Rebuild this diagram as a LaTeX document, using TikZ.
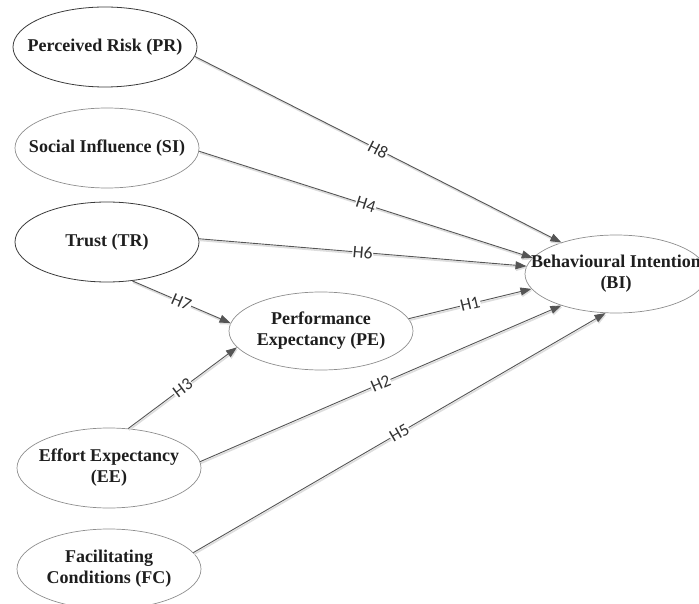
\documentclass[tikz,border=0pt]{standalone}
\usepackage{fontspec}
\setmainfont{Liberation Serif}
\newfontfamily\labfont{Carlito}
\usetikzlibrary{shapes.geometric,arrows.meta}
\definecolor{darkedge}{HTML}{3A3A3A}
\definecolor{lightedge}{HTML}{8E8E8E}
\definecolor{arrowc}{HTML}{555555}
\definecolor{shadowc}{HTML}{DDDDDD}
\definecolor{txtc}{HTML}{1E1E1E}
\definecolor{labc}{HTML}{333333}
\begin{document}
\begin{tikzpicture}[x=1pt,y=-1pt,
  ellbox/.style={ellipse, draw=lightedge, line width=0.7pt, inner sep=0pt,
    minimum width=184pt, minimum height=80pt},
  darkbox/.style={ellbox, draw=darkedge, line width=0.8pt},
  nametext/.style={align=center, inner sep=0pt, text=txtc,
    font=\fontsize{18}{21}\selectfont\bfseries},
  hyp/.style={draw=arrowc, line width=0.9pt,
    -{Triangle[length=11pt,width=8pt]},
    preaction={draw=shadowc, line width=1.6pt,
      transform canvas={shift={(0.8pt,-1.6pt)}}}},
  hlab/.style={midway, sloped, fill=white, inner sep=0.6pt, text=labc,
    font=\labfont\fontsize{17.5}{17.5}\selectfont}
]
\useasboundingbox (0,0) rectangle (699,604);
\clip (0,0) rectangle (699,604);

\node[darkbox] (PR) at (105,47) {};
\node[nametext] (PRt) at (PR) {Perceived Risk (PR)};
\node[ellbox] (SI) at (107,148) {};
\node[nametext] (SIt) at (SI) {Social Influence (SI)};
\node[darkbox] (TR) at (107,242) {};
\node[nametext] (TRt) at (TR) {Trust (TR)};
\node[ellbox, minimum height=78pt] (PE) at (321,331) {};
\node[nametext] (PEt) at (PE) {Performance\\Expectancy (PE)};
\node[ellbox, minimum width=182pt, minimum height=78pt] (BI) at (616,274) {};
\node[nametext] (BIt) at (BI) {Behavioural Intention\\(BI)};
\node[ellbox] (EE) at (109,468) {};
\node[nametext] (EEt) at (EE) {Effort Expectancy\\(EE)};
\node[ellbox] (FC) at (109,569) {};
\node[nametext] (FCt) at (FC) {Facilitating\\Conditions (FC)};

\draw[hyp] (PR.-6) -- node[hlab]{H8} (BI.150.3);
\draw[hyp] (SI.-2) -- node[hlab]{H4} (BI.169.5);
\draw[hyp] (TR.2.5) -- node[hlab]{H6} (BI.175.7);
\draw[hyp] (PE.8) -- node[hlab]{H1} (BI.190.5);
\draw[hyp] (EE.4.4) -- node[hlab]{H2} (BI.210.4);
\draw[hyp] (FC.11) -- node[hlab]{H5} (BI.255.7);
\draw[hyp] (TR.-57) -- node[hlab]{H7} (PE.175.6);
\draw[hyp] (EE.64.7) -- node[hlab]{H3} (PE.191.4);
\end{tikzpicture}
\end{document}
